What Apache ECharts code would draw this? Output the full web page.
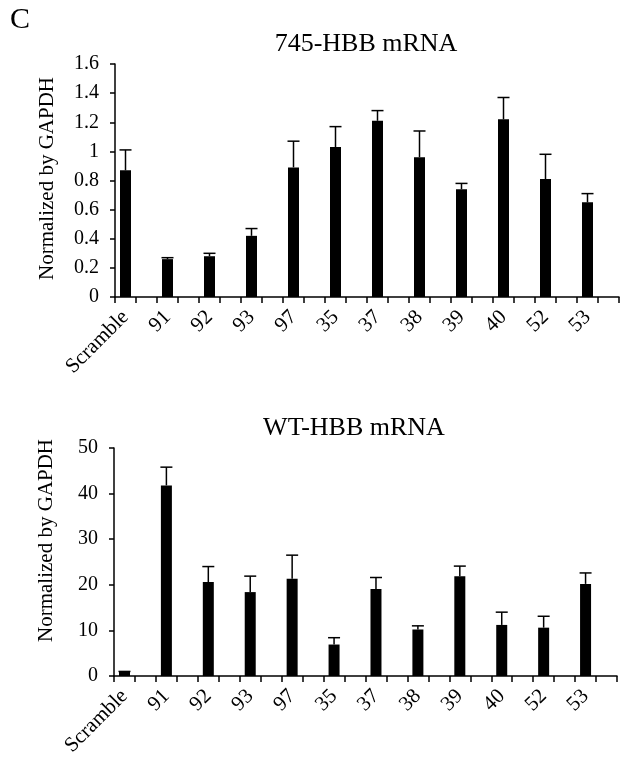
<!DOCTYPE html>
<html>
<head>
<meta charset="utf-8">
<script src="https://cdn.jsdelivr.net/npm/echarts@6/dist/echarts.min.js"></script>
<style>
  html, body { margin: 0; background: #fff; }
  #chart { width: 629px; height: 762px; }
</style>
</head>
<body>
<div id="chart"></div>
<script>
// categories shared by both panels
const categories = ['Scramble', '91', '92', '93', '97', '35', '37', '38', '39', '40', '52', '53']

// 745-HBB mRNA (mean and top of error bar)
const mutMean = [0.87, 0.26, 0.28, 0.42, 0.89, 1.03, 1.21, 0.96, 0.74, 1.22, 0.81, 0.65]
const mutUpper = [1.01, 0.27, 0.30, 0.47, 1.07, 1.17, 1.28, 1.14, 0.78, 1.37, 0.98, 0.71]

// WT-HBB mRNA
const wtMean = [1.0, 41.8, 20.6, 18.4, 21.3, 6.9, 19.1, 10.2, 21.9, 11.2, 10.6, 20.2]
const wtUpper = [1.0, 45.8, 24.0, 21.9, 26.5, 8.4, 21.6, 11.0, 24.1, 14.0, 13.1, 22.6]

const FONT = 'Liberation Serif'

// each category gets a bar slot and an empty slot, like the original layout
const slots = categories.flatMap(c => [c, c + '_gap'])
const barData = vals => vals.flatMap(v => [v, '-'])
const errData = (mean, upper) => mean.map((v, i) => [i * 2, v, upper[i]])

const renderError = (params, api) => {
  const x = api.value(0)
  const base = api.coord([x, api.value(1)])
  const top = api.coord([x, api.value(2)])
  const half = 6
  const style = { stroke: '#000', lineWidth: 1.5 }
  return {
    type: 'group',
    children: [
      { type: 'line', shape: { x1: base[0], y1: base[1], x2: top[0], y2: top[1] }, style },
      { type: 'line', shape: { x1: top[0] - half, y1: top[1], x2: top[0] + half, y2: top[1] }, style }
    ]
  }
}

const xAxisFor = gridIndex => ({
  type: 'category',
  gridIndex,
  data: slots,
  axisLine: { show: true, lineStyle: { color: '#000', width: 1.5 } },
  axisTick: { show: true, interval: 0, inside: false, length: 6, lineStyle: { color: '#000', width: 1.5 } },
  axisLabel: {
    interval: i => i % 2 === 0,
    rotate: 45,
    margin: 17,
    color: '#000',
    fontFamily: FONT,
    fontSize: 21
  }
})

const yAxisFor = (gridIndex, max, interval, padding) => ({
  type: 'value',
  gridIndex,
  min: 0,
  max,
  interval,
  name: 'Normalized by GAPDH',
  nameLocation: 'middle',
  nameGap: 57,
  nameTextStyle: { color: '#000', fontFamily: FONT, fontSize: 21, padding },
  axisLine: { show: true, lineStyle: { color: '#000', width: 1.5 } },
  axisTick: { show: true, inside: false, length: 5, lineStyle: { color: '#000', width: 1.5 } },
  axisLabel: { margin: 16, color: '#000', fontFamily: FONT, fontSize: 20 },
  splitLine: { show: false }
})

const chart = echarts.init(document.getElementById('chart'))

const option = {
  animation: false,
  backgroundColor: '#fff',
  graphic: [
    { type: 'text', x: 10, y: 5, style: { text: 'C', font: '30px "Liberation Serif"', fill: '#000' } },
    {
      type: 'text', x: 366, y: 44,
      style: { text: '745-HBB mRNA', font: '26px "Liberation Serif"', fill: '#000', textAlign: 'center', textVerticalAlign: 'middle' }
    },
    {
      type: 'text', x: 354, y: 428,
      style: { text: 'WT-HBB mRNA', font: '26px "Liberation Serif"', fill: '#000', textAlign: 'center', textVerticalAlign: 'middle' }
    }
  ],
  grid: [
    { left: 115, right: 10, top: 64, height: 233 },
    { left: 114, right: 12, top: 448, height: 228 }
  ],
  xAxis: [xAxisFor(0), xAxisFor(1)],
  yAxis: [yAxisFor(0, 1.6, 0.2, [0, 0, 0, 4]), yAxisFor(1, 50, 10, [0, 0, 0, 43])],
  series: [
    {
      type: 'bar', xAxisIndex: 0, yAxisIndex: 0,
      data: barData(mutMean), barWidth: 11,
      itemStyle: { color: '#000' }
    },
    {
      type: 'custom', xAxisIndex: 0, yAxisIndex: 0,
      data: errData(mutMean, mutUpper), renderItem: renderError,
      encode: { x: 0, y: [1, 2] }, z: 3
    },
    {
      type: 'bar', xAxisIndex: 1, yAxisIndex: 1,
      data: barData(wtMean), barWidth: 11,
      itemStyle: { color: '#000' }
    },
    {
      type: 'custom', xAxisIndex: 1, yAxisIndex: 1,
      data: errData(wtMean, wtUpper), renderItem: renderError,
      encode: { x: 0, y: [1, 2] }, z: 3
    }
  ]
}

chart.setOption(option)
</script>
</body>
</html>
